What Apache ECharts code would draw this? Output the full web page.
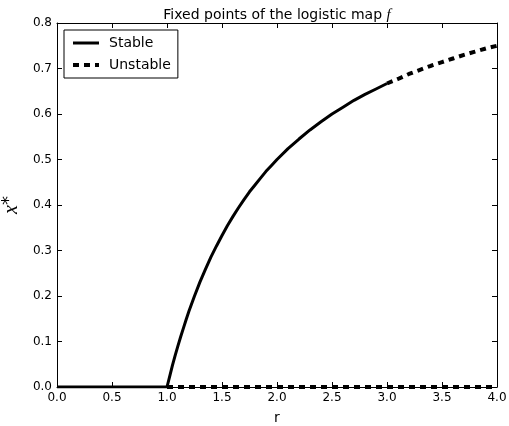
<!DOCTYPE html>
<html>
<head>
<meta charset="utf-8">
<script src="https://cdn.jsdelivr.net/npm/echarts@6/dist/echarts.min.js"></script>
<style>
  html, body { margin: 0; padding: 0; background: #fff; }
  #chart { width: 509px; height: 426px; }
</style>
</head>
<body>
<div id="chart"></div>
<script>
// Fixed points of the logistic map f(x) = r x (1 - x)
// x* = 0 (stable for r < 1) and x* = 1 - 1/r (stable for 1 < r < 3)

const zeroStableR = [0.0, 1.0];
const zeroStableX = [0.0, 0.0];

const zeroUnstableR = [1.0, 4.0];
const zeroUnstableX = [0.0, 0.0];

const nontrivStableR = [1.0, 1.025, 1.05, 1.075, 1.1, 1.125, 1.15, 1.175, 1.2, 1.25, 1.3, 1.35,
                        1.4, 1.45, 1.5, 1.55, 1.6, 1.65, 1.7, 1.75, 1.8, 1.85, 1.9, 1.95, 2.0,
                        2.1, 2.2, 2.3, 2.4, 2.5, 2.6, 2.7, 2.8, 2.9, 3.0];
const nontrivStableX = [0.000, 0.024, 0.048, 0.070, 0.091, 0.111, 0.130, 0.149, 0.167, 0.200,
                        0.231, 0.259, 0.286, 0.310, 0.333, 0.355, 0.375, 0.394, 0.412, 0.429,
                        0.444, 0.459, 0.474, 0.487, 0.500, 0.524, 0.545, 0.565, 0.583, 0.600,
                        0.615, 0.630, 0.643, 0.655, 0.667];

const nontrivUnstableR = [3.0, 3.1, 3.2, 3.3, 3.4, 3.5, 3.6, 3.7, 3.8, 3.9, 4.0];
const nontrivUnstableX = [0.667, 0.677, 0.688, 0.697, 0.706, 0.714, 0.722, 0.730, 0.737, 0.744, 0.750];

const xTicks = [0.0, 0.5, 1.0, 1.5, 2.0, 2.5, 3.0, 3.5, 4.0];
const yTicks = [0.0, 0.1, 0.2, 0.3, 0.4, 0.5, 0.6, 0.7, 0.8];

const pairs = (xs, ys) => xs.map((x, i) => [x, ys[i]]);

const FONT = 'DejaVu Sans';
const stableStyle = { color: '#000', width: 3, type: 'solid' };
const unstableStyle = { color: '#000', width: 4, type: [6, 5], cap: 'butt' };

const axisCommon = {
  axisLine: { show: true, onZero: false, lineStyle: { color: '#000', width: 1 } },
  axisTick: { show: true, inside: true, length: 5, lineStyle: { color: '#000', width: 1 } },
  splitLine: { show: false }
};

const chart = echarts.init(document.getElementById('chart'), null, { renderer: 'canvas' });
chart.setOption({
  backgroundColor: '#fff',
  animation: false,
  title: {
    text: 'Fixed points of the logistic map {i|f}',
    left: 272, top: 3, textAlign: 'center',
    textStyle: {
      fontFamily: FONT, fontSize: 14, fontWeight: 'normal', color: '#000',
      rich: { i: { fontFamily: 'Liberation Serif', fontStyle: 'italic', fontSize: 15, color: '#000' } }
    }
  },
  legend: {
    orient: 'vertical',
    left: 64, top: 30,
    padding: [6, 7, 6, 7],
    itemGap: 8,
    itemWidth: 26, itemHeight: 14,
    backgroundColor: '#fff',
    borderColor: '#000', borderWidth: 1, borderRadius: 0,
    itemStyle: { color: 'rgba(0,0,0,0)', borderWidth: 0 },
    lineStyle: { width: 'inherit', type: 'inherit', color: 'inherit' },
    textStyle: { fontFamily: FONT, fontSize: 14, color: '#000', padding: [0, 0, 0, 5] },
    data: ['Stable', 'Unstable']
  },
  grid: { left: 57, right: 12, top: 23, bottom: 39, containLabel: false, outerBoundsMode: 'none' },
  xAxis: [
    Object.assign({
      type: 'value', min: 0, max: 4, interval: 0.5, position: 'bottom',
      name: 'r', nameLocation: 'middle', nameGap: 24,
      nameTextStyle: { fontFamily: FONT, fontSize: 14, color: '#000' },
      axisLabel: { fontFamily: FONT, fontSize: 12, color: '#000', margin: 5,
        formatter: v => v.toFixed(1) }
    }, axisCommon),
    Object.assign({
      type: 'value', min: 0, max: 4, interval: 0.5, position: 'top',
      axisLabel: { show: false }
    }, axisCommon)
  ],
  yAxis: [
    Object.assign({
      type: 'value', min: 0, max: 0.8, interval: 0.1, position: 'left',
      name: '{x|x}{s|*}', nameLocation: 'middle', nameGap: 29, nameRotate: 90,
      nameTextStyle: {
        color: '#000',
        rich: {
          x: { fontFamily: 'Liberation Serif', fontStyle: 'italic', fontSize: 20, color: '#000' },
          s: { fontFamily: FONT, fontSize: 18, color: '#000', verticalAlign: 'top', padding: [0, 0, 6, 0] }
        }
      },
      axisLabel: { fontFamily: FONT, fontSize: 12, color: '#000', margin: 5,
        formatter: v => v.toFixed(1) }
    }, axisCommon),
    Object.assign({
      type: 'value', min: 0, max: 0.8, interval: 0.1, position: 'right',
      axisLabel: { show: false }
    }, axisCommon)
  ],
  series: [
    {
      name: 'Stable', type: 'line', xAxisIndex: 0, yAxisIndex: 0,
      data: pairs(zeroStableR, zeroStableX),
      symbol: 'none', clip: true, lineStyle: stableStyle, itemStyle: { color: '#000' }
    },
    {
      name: 'Unstable', type: 'line', xAxisIndex: 0, yAxisIndex: 0,
      data: pairs(zeroUnstableR, zeroUnstableX),
      symbol: 'none', clip: true, lineStyle: unstableStyle, itemStyle: { color: '#000' }
    },
    {
      name: 'Stable', type: 'line', xAxisIndex: 0, yAxisIndex: 0,
      data: pairs(nontrivStableR, nontrivStableX),
      symbol: 'none', clip: true,
      lineStyle: stableStyle, itemStyle: { color: '#000' }
    },
    {
      name: 'Unstable', type: 'line', xAxisIndex: 0, yAxisIndex: 0,
      data: pairs(nontrivUnstableR, nontrivUnstableX),
      symbol: 'none', clip: true,
      lineStyle: unstableStyle, itemStyle: { color: '#000' }
    }
  ]
});
</script>
</body>
</html>
